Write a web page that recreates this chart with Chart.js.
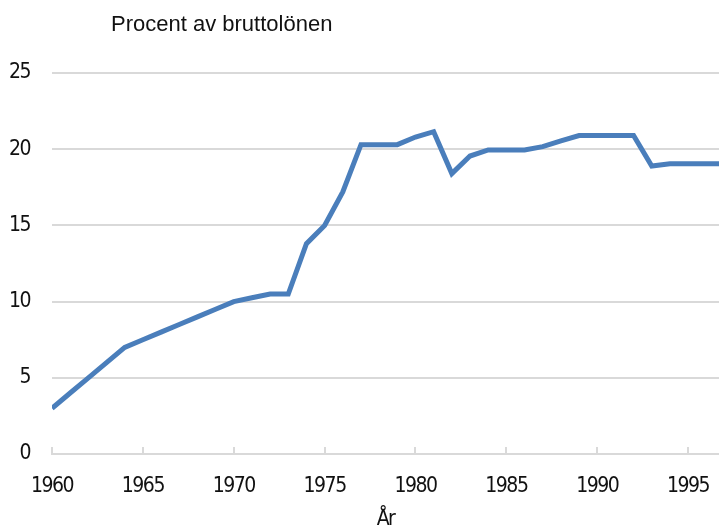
<!DOCTYPE html>
<html>
<head>
<meta charset="utf-8">
<script src="https://cdn.jsdelivr.net/npm/chart.js@4"></script>
<style>
  html, body { margin: 0; padding: 0; background: #fff; }
  #wrap { position: relative; width: 719px; height: 530px; }
  #title {
    position: absolute; left: 111px; top: 11px;
    font-family: "Liberation Sans", Arial, sans-serif; font-size: 22px; color: #111;
  }
</style>
</head>
<body>
<div id="wrap">
  <div id="title">Procent av bruttolönen</div>
  <canvas id="myChart" width="719" height="530"></canvas>
</div>
<script>
// years and percent of gross wage
const years = [1960, 1961, 1962, 1963, 1964, 1965, 1966, 1967, 1968, 1969,
  1970, 1971, 1972, 1973, 1974, 1975, 1976, 1977, 1978, 1979,
  1980, 1981, 1982, 1983, 1984, 1985, 1986, 1987, 1988, 1989,
  1990, 1991, 1992, 1993, 1994, 1995, 1996, 1997];
const percent = [3.0, 4.0, 5.0, 6.0, 7.0, 7.5, 8.0, 8.5, 9.0, 9.5,
  10.0, 10.25, 10.5, 10.5, 13.8, 15.0, 17.2, 20.3, 20.3, 20.3,
  20.8, 21.15, 18.4, 19.55, 19.95, 19.95, 19.95, 20.17, 20.55, 20.9,
  20.9, 20.9, 20.9, 18.9, 19.05, 19.05, 19.05, 19.05];
const xTicks = [1960, 1965, 1970, 1975, 1980, 1985, 1990, 1995];
const yTicks = [0, 5, 10, 15, 20, 25];

const tickFont = { family: "'DejaVu Sans Condensed', 'DejaVu Sans', sans-serif", size: 21 };
const gridColor = '#d9d9d9';
const textColor = '#111';

// narrower digits, closer to the original condensed font
const squeezeText = {
  id: 'squeezeText',
  beforeUpdate(chart) { chart.ctx.letterSpacing = '-1.5px'; },
  beforeDraw(chart) { chart.ctx.letterSpacing = '-1.5px'; }
};

const ctx = document.getElementById('myChart');

new Chart(ctx, {
  type: 'line',
  data: {
    datasets: [{
      data: years.map((y, i) => ({ x: y, y: percent[i] })),
      borderColor: '#4a7ebb',
      borderWidth: 5,
      pointRadius: 0,
      tension: 0
    }]
  },
  plugins: [squeezeText],
  options: {
    responsive: false,
    animation: false,
    devicePixelRatio: 1,
    layout: { padding: { top: 73, right: 0, left: 0, bottom: 0 } },
    plugins: { legend: { display: false }, tooltip: { enabled: false } },
    scales: {
      x: {
        type: 'linear',
        min: 1960,
        max: 1996.7,
        afterBuildTicks: s => { s.ticks = xTicks.map(v => ({ value: v })); },
        afterFit: s => { s.height = 76; s.paddingLeft = 0; s.paddingRight = 0; },
        ticks: { font: tickFont, color: textColor, maxRotation: 0, padding: 27,
          callback: v => String(v) },
        grid: { drawOnChartArea: false, color: gridColor, lineWidth: 2, tickLength: -7 },
        border: { color: gridColor, width: 2 },
        title: { display: true, text: 'År', font: { ...tickFont, lineHeight: 1 }, color: textColor, padding: 0 }
      },
      y: {
        min: 0,
        max: 25,
        afterBuildTicks: s => { s.ticks = yTicks.map(v => ({ value: v })); },
        afterFit: s => { s.width = 52; },
        ticks: { font: tickFont, color: textColor, padding: 22 },
        grid: { color: (c) => c.tick.value === 0 ? 'rgba(0,0,0,0)' : gridColor, lineWidth: 2, drawTicks: false },
        border: { display: false }
      }
    }
  }
});
</script>
</body>
</html>
